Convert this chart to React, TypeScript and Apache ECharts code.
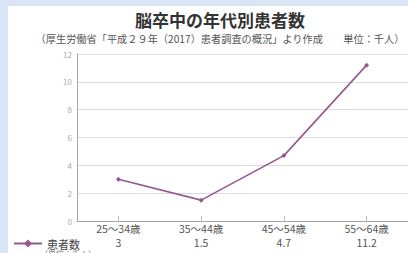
import React, { useEffect, useRef } from "react";
import * as echarts from "echarts";

const categories = ["25～34歳", "35～44歳", "45～54歳", "55～64歳"];
const patients = [3, 1.5, 4.7, 11.2];
const yTicks = { min: 0, max: 12, interval: 2 };

const FONT = "'Noto Sans CJK JP', 'Noto Sans', sans-serif";

export default function App() {
  const ref = useRef<HTMLDivElement>(null);
  useEffect(() => {
    if (!ref.current) return;
    const chart = echarts.init(ref.current, undefined, { renderer: "svg" });
    chart.setOption({
      animation: false,
      backgroundColor: "#d9e4f4",
      textStyle: { fontFamily: FONT },
      title: {
        text: "脳卒中の年代別患者数",
        subtext: "（厚生労働省「平成２９年（2017）患者調査の概況」より作成　　単位：千人）",
        left: 215,
        textAlign: "center",
        top: 6,
        itemGap: 5,
        textStyle: { fontSize: 17, fontWeight: "bold", color: "#333", fontFamily: FONT },
        subtextStyle: { fontSize: 10.2, color: "#555", fontFamily: FONT },
      },
      graphic: [
        {
          type: "rect",
          z: -100,
          shape: { x: 8, y: 6, width: 400, height: 247 },
          style: { fill: "#ffffff" },
        },
        {
          type: "text",
          x: 40,
          y: 249,
          style: { text: "（単位：千人）", fontSize: 8, fill: "#777", fontFamily: FONT },
        },
      ],
      legend: {
        left: 8,
        top: 233,
        itemWidth: 28,
        itemHeight: 10,
        itemGap: 4,
        textStyle: { fontSize: 11, color: "#444", fontFamily: FONT },
        data: ["患者数"],
      },
      grid: { left: 77, top: 54, width: 336, height: 167 },
      xAxis: [
        {
          type: "category",
          data: categories,
          boundaryGap: true,
          axisLine: { lineStyle: { color: "#a6a6a6", width: 1 } },
          axisTick: { show: true, inside: true, alignWithLabel: true, length: 5, lineStyle: { color: "#bbb" } },
          axisLabel: {
            interval: 0,
            margin: 2,
            fontSize: 10.5,
            color: "#555",
            fontFamily: FONT,
          },
        },
        {
          type: "category",
          position: "bottom",
          offset: 14,
          data: patients.map(String),
          boundaryGap: true,
          axisLine: { show: false },
          axisTick: { show: false },
          axisLabel: {
            interval: 0,
            margin: 2,
            fontSize: 10.5,
            color: "#555",
            fontFamily: FONT,
          },
        },
      ],
      yAxis: {
        type: "value",
        min: yTicks.min,
        max: yTicks.max,
        interval: yTicks.interval,
        axisLine: { show: true, lineStyle: { color: "#a6a6a6", width: 1 } },
        axisTick: { show: false },
        splitLine: { lineStyle: { color: "#dcdcdc", width: 1 } },
        axisLabel: { fontSize: 8, color: "#aaa", margin: 5, fontFamily: FONT },
      },
      series: [
        {
          name: "患者数",
          type: "line",
          data: patients,
          symbol: "diamond",
          symbolSize: 5,
          lineStyle: { color: "#93598f", width: 1.6 },
          itemStyle: { color: "#93598f" },
        },
      ],
    });
    return () => chart.dispose();
  }, []);
  return (
    <div
      ref={ref}
      style={{ position: "fixed", left: 0, top: 0, width: 408, height: 253 }}
    />
  );
}
